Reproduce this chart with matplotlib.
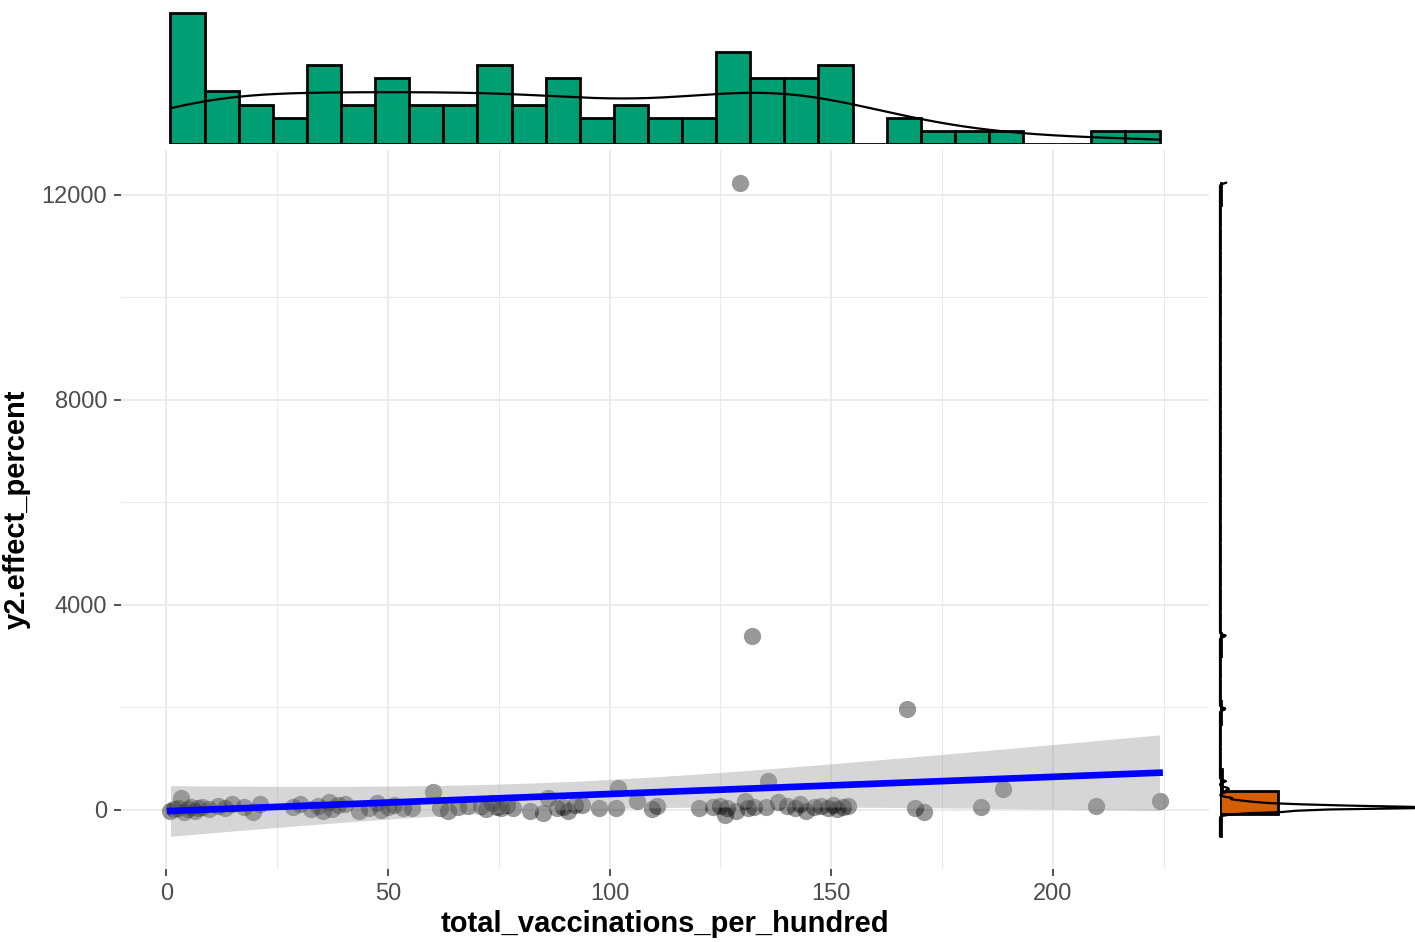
import numpy as np
import matplotlib
matplotlib.use("Agg")
import matplotlib.pyplot as plt
from matplotlib.ticker import MultipleLocator

plt.rcParams["font.family"] = ["Liberation Sans", "DejaVu Sans"]

# scatter data
vacc = [0.9, 1.8, 2.5, 3.2, 4.0, 4.8, 5.6, 6.4, 7.2, 8.1,
        9.6, 11.6, 13.2, 14.9,
        17.4, 19.6, 21.0,
        28.6, 30.2,
        32.6, 34.2, 35.4, 36.6, 37.3, 38.7,
        40.3, 43.5, 45.6,
        47.6, 48.3, 50.0, 51.3, 53.4,
        55.3, 60.2, 61.8,
        63.6, 65.8, 68.0,
        71.0, 72.2, 73.4, 74.6, 75.6, 76.8,
        78.3, 82.1, 85.0,
        86.1, 88.1, 89.5, 90.6, 92.2,
        93.8, 97.5,
        101.4, 101.9, 106.2,
        109.5, 110.7,
        120.2, 123.3,
        124.8, 126.0, 126.5, 128.5, 129.4, 130.6, 131.2,
        132.1, 132.6, 135.3, 135.7, 138.0,
        140.0, 141.8, 142.9, 144.3, 146.2,
        147.8, 149.3, 150.5, 151.4, 152.6, 153.9,
        167.2, 168.9, 171.0, 183.9, 188.7, 209.7, 224.1]
effect = [-30, 20, 40, 230, -50, 10, 60, -20, 30, 50,
          20, 70, 40, 120,
          60, -40, 110,
          50, 120,
          20, 70, -20, 150, 10, 90,
          110, -30, 30,
          130, -10, 60, 90, 30,
          40, 350, 30,
          -30, 50, 80,
          70, 20, 130, 60, 40, 100,
          30, -20, -60,
          230, 40, 50, -30, 100,
          100, 40,
          40, 430, 170,
          20, 70,
          40, 60,
          80, -90, 40, -20, 12234, 180, 30,
          3395, 50, 60, 560, 160,
          80, 40, 120, -20, 60,
          70, 40, 100, 20, 60, 80,
          1970, 40, -50, 50, 400, 80, 170]

x = np.array(vacc, dtype=float)
y = np.array(effect, dtype=float)
n = len(x)

# linear fit with 95% band (like geom_smooth(method = "lm"))
b, a = np.polyfit(x, y, 1)
xs = np.linspace(x.min(), x.max(), 80)
fit = a + b * xs
s = np.sqrt(np.sum((y - (a + b * x)) ** 2) / (n - 2))
sxx = np.sum((x - x.mean()) ** 2)
se = s * np.sqrt(1 / n + (xs - x.mean()) ** 2 / sxx)
t975 = 1.9867
lo, hi = fit - t975 * se, fit + t975 * se


def kde(v, grid):
    q75, q25 = np.percentile(v, [75, 25])
    bw = 0.9 * min(v.std(ddof=1), (q75 - q25) / 1.34) * len(v) ** -0.2
    z = (grid[:, None] - v[None, :]) / bw
    return np.exp(-0.5 * z ** 2).sum(axis=1) / (len(v) * bw * np.sqrt(2 * np.pi))


xr = (x.min(), x.max())
yr = (min(y.min(), lo.min()), max(y.max(), hi.max()))
dx, dy = xr[1] - xr[0], yr[1] - yr[0]
xlim = (xr[0] - 0.05 * dx, xr[1] + 0.05 * dx)
ylim = (yr[0] - 0.05 * dy, yr[1] + 0.05 * dy)

W, H = 1415, 942
fig = plt.figure(figsize=(W / 100, H / 100), dpi=100)


def box(l, t, r, btm):
    return [l / W, 1 - btm / H, (r - l) / W, (btm - t) / H]


# main panel
ax = fig.add_axes(box(121, 150, 1209, 869))
ax.scatter(x, y, s=155, color="black", alpha=0.4, linewidths=0, zorder=2)
ax.fill_between(xs, lo, hi, color="#999999", alpha=0.4, linewidth=0, zorder=3)
ax.plot(xs, fit, color="blue", lw=4.8, zorder=4)
ax.set_xlim(xlim)
ax.set_ylim(ylim)
ax.xaxis.set_major_locator(MultipleLocator(50))
ax.xaxis.set_minor_locator(MultipleLocator(25))
ax.yaxis.set_major_locator(MultipleLocator(4000))
ax.yaxis.set_minor_locator(MultipleLocator(2000))
ax.grid(which="major", color="#EBEBEB", lw=1.5, zorder=0)
ax.grid(which="minor", color="#EBEBEB", lw=0.8, zorder=0)
ax.set_axisbelow(True)
for sp in ax.spines.values():
    sp.set_visible(False)
ax.tick_params(which="major", length=5, width=1.2, color="#333333",
               labelsize=17, labelcolor="#4D4D4D", pad=5)
ax.tick_params(which="minor", length=0)
ax.set_xlabel("total_vaccinations_per_hundred", fontsize=21, fontweight="bold", labelpad=4)
ax.set_ylabel("y2.effect_percent", fontsize=21, fontweight="bold", labelpad=8)

# top marginal: histogram (density) + density curve
axt = fig.add_axes(box(121, 6, 1209, 144))
cx, ex = np.histogram(x, bins=29, range=xr)
wx = ex[1] - ex[0]
dens_x = cx / (n * wx)
gx = np.linspace(xr[0], xr[1], 512)
kx = kde(x, gx)
axt.bar(ex[:-1], dens_x, width=wx, align="edge", color="#009E73",
        edgecolor="black", linewidth=2.0)
axt.plot(gx, kx, color="black", lw=1.6)
axt.set_xlim(xlim)
axt.set_ylim(0, max(dens_x.max(), kx.max()) * 1.05)
axt.axis("off")

# right marginal
axr = fig.add_axes(box(1220, 150, 1415, 869))
cy, ey = np.histogram(y, bins=29, range=yr)
wy = ey[1] - ey[0]
dens_y = cy / (n * wy)
gy = np.linspace(yr[0], yr[1], 512)
ky = kde(y, gy)
axr.barh(ey[:-1], dens_y, height=wy, align="edge", color="#D55E00",
         edgecolor="black", linewidth=2.0)
axr.plot(ky, gy, color="black", lw=1.6, clip_on=False)
axr.set_ylim(ylim)
axr.set_xlim(0, ky.max())
axr.axis("off")

fig.savefig("out.png", dpi=100)
